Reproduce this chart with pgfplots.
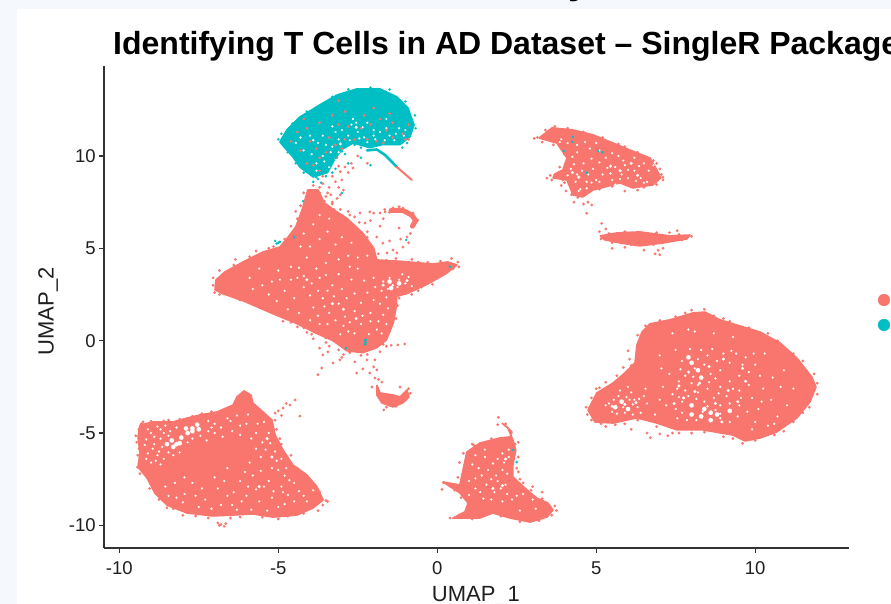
\documentclass[border=0pt]{standalone}
\usepackage{fontspec}
\setmainfont{Liberation Sans}
\usepackage{pgfplots}
\pgfplotsset{compat=1.18}
\definecolor{sal}{HTML}{F8766D}
\definecolor{tealc}{HTML}{00BFC4}
\definecolor{bgb}{HTML}{F5F9FE}
\definecolor{axc}{HTML}{333333}
\pgfplotsset{
  dots/.style n args={2}{only marks, mark=*, color=#1, mark size=#2, mark options={draw=#1, fill=#1, line width=0.1pt, solid}},
}
\begin{document}
\begin{tikzpicture}[x=1pt,y=1pt]
\useasboundingbox (0,0) rectangle (891,604);
\fill[bgb] (0,0) rectangle (891,604);
\fill[white] (17,0) rectangle (891,595);
\node[anchor=base west,inner sep=0pt,font=\bfseries\fontsize{40}{40}\selectfont] at (568,610) {y};
\begin{axis}[
  at={(103.7pt,55.7pt)}, anchor=south west,
  scale only axis, width=745.3pt, height=482.3pt,
  xmin=-10.49, xmax=12.95, ymin=-11.24, ymax=14.87,
  axis lines=left, axis line style={-, axc, line width=1.6pt},
  clip=false,
  xtick={-10,-5,0,5,10}, ytick={-10,-5,0,5,10},
  tick align=outside, major tick length=4.5pt,
  tick style={axc, line width=1.3pt},
  tick label style={font=\fontsize{18.5}{19}\selectfont, text=black!88},
  xticklabel style={yshift=-5pt},
  /pgf/number format/assume math mode=true,
  xlabel={UMAP\_1}, ylabel={UMAP\_2},
  label style={font=\fontsize{22}{22}\selectfont, text=black!88},
  xlabel style={at={(axis description cs:0.4994,0)}, anchor=base, yshift=-53pt},
  ylabel style={at={(axis description cs:0,0.491)}, anchor=base, yshift=50pt},
  title={Identifying T Cells in AD Dataset -- SingleR Package},
  title style={at={(axis description cs:0.0125,1.0105)}, anchor=base west, inner sep=0pt,
    font=\bfseries\fontsize{32}{33}\selectfont},
]
% --- cluster bodies ---
\addplot[fill=sal, draw=sal, line width=1.6pt, line join=round] coordinates {(-9.35,-4.56)(-8.94,-4.40)(-8.31,-4.40)(-7.87,-4.19)(-7.46,-4.02)(-6.93,-3.86)(-6.42,-3.48)(-6.30,-3.05)(-6.08,-2.72)(-5.86,-2.94)(-5.80,-3.37)(-5.48,-3.86)(-5.20,-4.29)(-5.10,-5.10)(-4.85,-5.92)(-4.54,-6.73)(-4.10,-7.27)(-3.78,-7.92)(-3.59,-8.62)(-3.91,-9.06)(-4.41,-9.44)(-5.17,-9.55)(-5.80,-9.38)(-6.42,-9.44)(-7.05,-9.49)(-7.87,-9.33)(-8.50,-8.90)(-8.88,-8.25)(-9.13,-7.43)(-9.41,-6.84)(-9.35,-6.08)(-9.41,-5.21)(-9.35,-4.56)};
\addplot[fill=sal, draw=sal, line width=1.6pt, line join=round] coordinates {(-6.96,3.29)(-6.68,3.72)(-6.11,4.26)(-5.48,4.80)(-4.95,5.07)(-4.69,5.61)(-4.45,6.16)(-4.25,7.08)(-4.07,8.16)(-3.75,8.16)(-3.55,7.46)(-3.25,7.08)(-2.85,6.64)(-2.35,5.84)(-2.0,5.02)(-1.9,4.37)(-1.17,4.30)(-0.14,4.15)(0.33,4.26)(0.62,4.10)(0.30,3.65)(-0.32,3.05)(-0.95,2.55)(-1.28,2.40)(-1.28,1.93)(-1.38,0.97)(-1.6,0.04)(-1.90,-0.38)(-2.34,-0.65)(-2.84,-0.55)(-3.28,0.0)(-3.78,0.38)(-4.41,0.92)(-5.17,1.46)(-6.11,2.16)(-6.74,2.54)(-6.99,2.75)(-6.96,3.29)};
\addplot[fill=sal, draw=sal, line width=1.6pt, line join=round] coordinates {(-1.90,-2.40)(-1.80,-2.83)(-1.39,-2.94)(-1.17,-3.05)(-0.95,-2.67)(-0.89,-3.05)(-1.08,-3.37)(-1.39,-3.59)(-1.74,-3.37)(-1.90,-2.94)(-1.90,-2.40)};
\addplot[fill=sal, draw=sal, line width=1.6pt, line join=round] coordinates {(4.74,-3.75)(5.02,-2.83)(5.53,-2.29)(5.90,-1.75)(6.22,-1.20)(6.28,-0.23)(6.44,0.47)(6.69,0.91)(7.32,1.13)(8.04,1.50)(8.42,1.55)(8.89,1.13)(9.42,0.85)(10.15,0.47)(10.78,-0.12)(11.31,-0.94)(11.78,-1.97)(11.91,-2.51)(11.72,-3.32)(11.31,-4.18)(10.68,-4.94)(10.15,-5.27)(9.68,-5.43)(9.30,-5.11)(8.36,-4.83)(7.54,-4.83)(6.91,-4.46)(6.28,-4.18)(5.53,-4.46)(4.96,-4.40)(4.74,-3.75)};
\addplot[fill=sal, draw=sal, line width=1.6pt, line join=round] coordinates {(3.20,10.97)(3.61,11.52)(4.27,11.41)(4.90,11.14)(5.53,10.70)(6.06,10.32)(6.69,9.89)(6.91,9.24)(7.03,8.81)(6.78,8.43)(6.15,8.27)(5.75,8.54)(5.27,8.32)(4.90,8.16)(4.58,7.78)(4.27,7.89)(4.08,8.70)(3.64,8.81)(3.70,9.03)(3.95,9.24)(4.08,9.89)(3.76,10.70)(3.20,10.97)};
\addplot[fill=sal, draw=sal, line width=1.6pt, line join=round] coordinates {(5.12,5.67)(5.65,5.83)(6.37,5.89)(7.32,5.67)(7.95,5.72)(7.85,5.51)(7.10,5.29)(6.37,5.13)(5.75,5.29)(5.27,5.46)(5.12,5.67)};
\addplot[fill=sal, draw=sal, line width=1.6pt, line join=round] coordinates {(2.03,-4.46)(2.22,-4.73)(2.38,-5.38)(2.47,-5.92)(2.38,-6.73)(2.38,-7.38)(2.82,-8.08)(3.13,-8.52)(3.48,-8.79)(3.64,-9.17)(3.45,-9.55)(2.92,-9.82)(2.29,-9.60)(1.75,-9.33)(1.34,-9.60)(0.49,-9.60)(0.87,-9.27)(0.97,-8.79)(0.71,-8.24)(0.18,-7.65)(0.71,-7.81)(0.81,-7.00)(0.93,-6.03)(1.34,-5.54)(1.97,-5.27)(2.29,-5.21)(2.35,-4.94)(2.19,-4.67)(2.03,-4.46)};
\addplot[sal, line width=5pt, line cap=round, line join=round] coordinates {(-1.45,7.05)(-1.08,7.05)(-0.8,6.8)(-0.68,6.5)(-0.78,6.2)};
\addplot[fill=tealc, draw=tealc, line width=1.6pt, line join=round] coordinates {(-4.95,10.76)(-4.73,11.41)(-4.32,12.11)(-3.59,12.87)(-3.15,13.30)(-2.53,13.63)(-1.80,13.63)(-1.27,13.20)(-0.92,12.60)(-0.73,11.68)(-0.86,11.03)(-1.17,10.62)(-1.71,10.62)(-2.12,10.45)(-2.65,10.7)(-3.00,10.35)(-3.25,9.75)(-3.45,9.10)(-3.9,8.86)(-4.32,9.40)(-4.54,9.95)(-4.79,10.43)(-4.95,10.76)};
\addplot[tealc, line width=2.6pt, line cap=round, line join=round] coordinates {(-2.21,10.3)(-1.90,10.35)(-1.64,10.05)(-1.27,9.40)};
\addplot[sal, line width=2pt, line cap=round] coordinates {(-1.27,9.40)(-0.80,8.70)};
% --- thin zones: large gaps ---
\addplot[dots={white}{2.2pt}] coordinates {(-8.5,-5.6)(-8.3,-5.75)(-8.1,-5.55)(-8.35,-5.4)(-8.05,-5.25)(-7.85,-5.0)(-7.7,-4.75)(-7.5,-4.8)(-7.9,-4.75)(-7.55,-4.55)(-8.2,-5.6)(-7.7,-4.9)(7.9,-0.9)(8.3,-2.0)(8.6,-3.9)(8.3,-4.1)(8.0,-4.0)(8.6,-4.3)(9.2,-3.8)(8.0,-3.5)(5.6,-3.6)(6.0,-3.7)(5.8,-3.3)(-1.5,3.2)(-1.2,3.1)(-1.45,2.85)(8.2,-1.6)(8.0,-1.2)(8.4,-3.7)(8.8,-4.0)};
\addplot[dots={white}{1.5pt}] coordinates {(7.9,-1.7)(8.25,-2.3)(8.55,-1.4)(9.15,-2.7)(9.6,-1.5)(9.45,-3.3)(8.75,-3.4)(7.75,-3.1)(8.1,-2.75)(7.6,-2.45)(9.0,-1.0)(7.45,-3.4)(8.95,-4.4)(9.7,-2.2)(5.9,-3.45)(6.25,-3.35)(5.5,-3.55)(-1.7,3.0)(-0.95,3.25)(-3.3,2.0)(-2.55,1.2)(-4.1,3.3)(-2.95,1.7)(-5.35,-5.3)(-5.2,-6.3)(-5.6,-7.9)(2.05,-7.85)(2.15,-6.4)(1.75,-8.0)(5.75,9.2)(6.3,8.95)(5.45,9.45)(4.25,9.1)(4.45,8.85)(6.1,9.6)(-2.55,11.55)(-3.05,10.65)};
% --- thin zones: small gaps ---
\addplot[dots={white}{1.05pt}] coordinates {(-9.0,-5.0)(-8.7,-4.8)(-8.9,-5.6)(-8.7,-5.3)(-8.4,-4.9)(-8.2,-4.7)(-9.1,-6.1)(-8.8,-6.2)(-9.0,-6.6)(-8.6,-6.4)(-7.0,-4.5)(-6.8,-4.7)(-6.5,-4.35)(-6.2,-4.6)(-7.2,-4.9)(-5.7,-5.0)(-5.5,-5.5)(-5.3,-5.0)(-5.1,-6.0)(-4.9,-6.4)(-5.2,-6.9)(-4.8,-7.3)(-5.55,-6.3)(-5.9,-6.6)(-6.2,-7.6)(-5.3,-7.6)(-4.9,-7.9)(-4.5,-7.7)(-6.4,-8.2)(-6.0,-8.4)(-5.6,-8.7)(-5.2,-8.5)(-6.9,-8.0)(-7.3,-8.6)(-6.8,-8.9)(-5.0,-9.0)(-4.5,-8.7)(-4.2,-8.4)(-7.7,-7.7)(-8.2,-8.5)(-3.9,-8.1)
(-8.9,-5.2)(-8.6,-5.0)(-8.45,-5.15)(-8.8,-4.65)(-8.55,-4.6)(-9.15,-5.35)(-9.1,-4.8)(-8.95,-5.85)(-8.65,-5.75)(-8.75,-6.0)(-8.45,-6.05)(-9.2,-5.65)(-9.15,-6.4)(-8.85,-6.5)(-8.7,-6.7)(-8.3,-6.2)(-8.1,-6.05)(-7.85,-5.5)(-7.7,-5.3)(-7.45,-5.15)(-7.25,-5.4)(-7.0,-5.0)(-6.75,-5.2)(-6.45,-4.9)(-6.2,-5.1)(-6.0,-4.5)(-5.85,-5.3)(-5.65,-4.5)(-5.95,-4.0)(-6.3,-4.05)(-6.6,-4.2)(-7.2,-4.35)(-7.1,-4.7)(-5.45,-4.4)(-5.4,-5.9)(-5.7,-5.85)(-5.25,-5.55)(-5.05,-6.5)(-4.75,-6.9)(-5.0,-7.0)(-4.65,-7.55)(-5.55,-7.05)(-5.8,-7.3)(-6.05,-7.1)(-5.45,-7.9)(-5.7,-8.05)(-5.95,-7.9)(-6.15,-8.7)(-6.45,-8.9)(-6.6,-8.4)(-6.7,-7.6)(-7.0,-7.4)(-7.4,-8.0)(-7.6,-8.4)(-7.95,-8.3)(-8.0,-8.75)(-8.45,-8.4)(-8.55,-7.9)(-8.25,-7.7)(-7.95,-7.4)(-7.5,-9.0)(-7.1,-9.1)(-6.3,-9.15)(-5.85,-9.15)(-5.35,-9.2)(-4.8,-8.85)(-4.7,-8.35)(-4.35,-8.15)(-4.1,-8.7)(-4.85,-8.2)(-5.15,-8.15)(-6.6,-6.9)
(-1.7,3.2)(-1.5,3.4)(-1.4,3.0)(-1.2,3.3)(-1.55,2.8)(-1.25,2.9)(-1.0,3.1)(-0.9,3.45)(-0.8,2.95)(-1.1,3.6)(-1.75,2.7)(-4.4,3.4)(-4.2,2.9)(-4.5,2.3)(-3.9,1.8)(-3.6,2.3)(-3.4,1.5)(-3.1,2.0)(-2.9,1.3)(-2.6,1.6)(-2.4,0.9)(-2.1,1.5)(-2.0,2.2)(-3.3,3.0)(-3.0,2.8)(-2.7,3.3)(-3.8,3.9)(-3.5,4.2)(-4.1,4.5)(-4.6,4.0)(-2.5,3.9)(-1.9,0.6)(-2.6,0.4)(-5.0,3.8)(-5.2,3.2)(-4.8,2.7)(-3.7,0.9)(-4.0,1.1)(-2.2,2.6)(-2.0,3.4)(-1.7,1.4)(-1.6,0.9)(-1.8,2.0)(-2.8,4.6)(-3.2,5.2)
(-5.9,3.4)(-5.6,3.9)(-5.5,3.0)(-5.8,2.8)(-4.95,3.3)(-5.3,2.5)(-5.05,2.15)(-4.7,1.7)(-4.35,1.5)(-4.6,3.3)(-4.35,3.95)(-4.2,3.5)(-3.95,3.1)(-3.7,3.4)(-4.0,2.45)(-3.75,2.7)(-3.45,2.7)(-3.25,2.4)(-3.55,1.85)(-3.75,1.35)(-3.2,1.1)(-3.45,0.9)(-2.95,0.8)(-2.75,1.0)(-2.85,2.3)(-2.6,2.55)(-2.4,2.05)(-2.35,1.35)(-2.1,1.05)(-2.15,0.35)(-2.8,0.5)(-3.05,0.35)(-1.75,0.4)(-1.85,1.05)(-1.55,1.75)(-1.6,2.35)(-1.95,2.9)(-2.3,3.25)(-2.5,4.5)(-2.75,4.0)(-3.1,4.4)(-3.4,4.75)(-3.1,3.6)(-3.5,3.55)(-4.0,5.1)(-3.7,5.5)(-3.45,5.9)(-3.0,5.6)(-2.7,5.3)(-4.3,5.1)(-4.2,5.8)(-3.9,6.3)(-3.7,6.8)(-3.4,6.6)(-2.2,4.6)
(7.9,-0.9)(8.2,-1.0)(8.4,-1.3)(8.1,-1.5)(8.5,-0.8)(8.8,-1.1)(7.8,-1.9)(8.0,-2.3)(8.3,-2.0)(8.6,-1.8)(8.9,-1.6)(9.2,-1.2)(9.4,-0.7)(9.6,-1.3)(9.8,-1.7)(9.5,-1.9)(9.2,-2.2)(8.9,-2.5)(8.5,-2.6)(8.2,-2.8)(7.8,-2.7)(7.6,-2.2)(7.4,-2.9)(7.7,-3.3)(8.0,-3.5)(8.4,-3.3)(8.7,-3.1)(9.1,-3.0)(9.5,-2.7)(9.8,-2.4)(9.9,-3.1)(9.5,-3.5)(9.2,-3.8)(8.9,-3.5)(8.6,-3.9)(8.3,-4.1)(8.0,-4.0)(8.6,-4.3)(8.9,-4.2)(9.2,-4.4)(7.7,-3.9)(10.1,-3.7)(10.0,-4.4)(10.4,-4.6)(10.5,-3.2)(10.8,-2.5)(7.1,-2.5)(7.3,-1.8)(7.5,-3.7)(7.2,-3.5)(8.1,0.5)(7.9,0.6)
(7.5,-0.5)(7.7,-1.1)(7.65,-1.55)(7.95,-0.45)(8.3,-0.5)(8.65,-0.45)(9.0,-0.7)(9.25,-0.55)(9.7,-0.9)(10.0,-1.3)(10.15,-1.9)(9.95,-0.7)(8.05,-1.95)(8.75,-2.05)(8.55,-2.25)(8.2,-2.4)(7.9,-3.0)(7.55,-2.6)(7.6,-3.05)(8.15,-3.15)(8.5,-3.55)(8.85,-2.85)(9.3,-2.6)(9.55,-3.1)(9.2,-3.4)(8.75,-3.75)(8.9,-3.95)(8.35,-3.85)(8.15,-4.3)(7.85,-4.3)(7.55,-4.2)(9.45,-4.1)(9.75,-3.85)(10.2,-3.3)(10.25,-2.6)(10.55,-2.0)(10.9,-1.6)(11.2,-2.6)(11.0,-3.5)(10.7,-4.1)(7.0,-3.2)(6.85,-4.0)(7.05,-1.5)(7.0,-0.8)(7.4,0.4)(8.7,0.4)(9.3,0.2)(10.3,-0.7)(9.9,-4.8)(10.6,-4.5)
(5.4,-3.4)(5.6,-3.6)(5.8,-3.3)(6.0,-3.7)(6.2,-3.2)(5.9,-3.9)(6.3,-3.6)(6.5,-3.0)(6.6,-3.4)(6.1,-2.8)(5.7,-3.0)(6.4,-3.9)(5.3,-3.5)(6.0,-2.5)(5.75,-2.7)(5.55,-3.2)(5.85,-3.6)(6.15,-3.45)(5.5,-3.85)(6.05,-3.2)(6.35,-3.15)(6.55,-2.6)(5.95,-3.05)(6.15,-4.0)(5.65,-3.95)
(4.2,9.3)(4.4,9.0)(4.1,8.95)(4.35,8.6)(5.6,9.4)(5.8,9.0)(6.0,8.8)(5.5,8.7)(5.2,9.0)(5.9,9.5)(6.2,9.2)(6.4,8.8)(6.5,9.6)(6.2,9.9)(5.3,9.9)(5.7,10.0)(4.6,9.6)(4.9,9.3)(4.4,10.2)(4.1,10.7)(3.9,10.9)(4.8,10.4)(5.1,10.3)(4.7,8.6)(5.0,8.7)(4.5,8.2)(6.6,8.6)
(4.3,9.55)(4.55,9.2)(4.75,9.0)(4.85,8.55)(5.1,8.6)(5.35,9.35)(5.45,9.05)(5.75,8.75)(6.0,9.25)(6.35,9.45)(6.65,9.2)(6.5,8.55)(6.25,8.65)(5.85,9.75)(5.5,10.15)(5.1,9.65)(4.85,9.85)(4.4,10.6)(4.65,10.75)(5.0,10.7)(4.25,9.95)(3.85,10.75)(4.45,8.1)(4.7,8.25)(6.8,9.5)(5.6,8.45)
(1.9,-7.6)(2.0,-8.0)(2.15,-7.8)(2.2,-8.3)(1.8,-8.2)(2.05,-6.1)(2.1,-6.6)(2.25,-6.3)(1.6,-7.0)(1.4,-7.3)(1.2,-8.0)(1.0,-7.6)(1.5,-6.3)(2.5,-8.4)(1.1,-6.7)(1.7,-8.6)
(1.7,-7.5)(1.55,-7.8)(1.85,-7.3)(2.05,-7.0)(2.2,-7.2)(2.25,-5.9)(1.9,-6.4)(1.75,-6.65)(1.3,-6.9)(1.2,-7.45)(1.35,-8.2)(1.45,-8.55)(1.0,-8.35)(2.35,-8.6)(2.05,-8.7)(2.7,-8.3)(3.0,-8.6)(3.1,-9.1)(2.6,-9.2)(1.5,-5.9)(1.2,-6.2)
(-2.7,11.7)(-2.5,11.3)(-2.3,11.0)(-2.8,11.1)(-3.1,10.9)(-3.3,10.5)(-3.0,11.4)(-3.5,10.6)(-2.0,11.4)(-1.6,11.5)(-1.3,11.2)(-3.6,10.0)(-3.8,9.6)(-3.95,10.1)(-4.2,10.3)(-2.2,11.8)(-3.3,11.6)(-1.0,11.4)(-3.6,11.1)
(-2.55,11.8)(-2.35,11.55)(-2.65,12.0)(-3.2,11.3)(-3.35,10.2)(-3.1,10.2)(-2.75,10.85)(-2.0,11.1)(-1.8,11.3)(-1.5,11.1)(-1.2,11.5)(-3.75,10.7)(-3.9,10.85)(-4.45,10.7)(-4.3,11.0)(-4.0,11.1)(-3.8,9.2)(-3.55,9.7)(-1.05,11.1)(-1.6,12.0)
(-2.45,10.95)(-2.2,10.75)(-1.95,10.9)(-1.65,10.85)(-1.35,10.85)(-3.2,9.85)(-3.4,9.4)};
% --- scattered teal cells under the pink ---
\addplot[dots={tealc}{1.25pt}] coordinates {(-3.2,10.4)(-3.0,10.25)(-2.85,10.65)(-2.6,10.6)(-2.4,10.85)(-2.15,10.55)(-1.85,10.6)(-1.55,10.7)(-1.1,10.45)(-0.95,10.7)(-3.3,9.65)(-3.45,9.2)(-3.5,8.9)(-3.9,8.6)(-3.65,8.55)(-3.3,9.1)(-2.8,9.6)};
% --- scattered pink cells ---
\addplot[dots={sal}{1.35pt}] coordinates {(-4.6,10.8)(-4.4,11.3)(-4.1,11.5)(-4.3,10.3)(-4.0,10.8)(-3.8,10.4)(-3.5,10.2)(-3.7,9.9)(-3.2,10.6)(-3.0,10.4)(-3.9,9.5)(-3.7,9.2)(-3.6,8.9)(-4.1,9.6)(-2.9,12.4)(-3.3,12.2)(-3.7,11.8)(-2.3,12.2)(-2.1,11.7)(-1.8,12.0)(-1.6,11.4)(-1.4,11.0)(-1.1,11.2)(-0.9,11.7)(-1.4,11.8)(-1.0,10.9)(-2.4,11.5)(-2.6,10.9)(-1.9,10.8)(-2.2,10.9)(-3.1,11.7)(-2.8,11.6)(-3.4,11.0)(-2.0,12.6)(-1.5,12.3)(-3.1,13.0)(-4.2,12.0)(-0.9,10.9)(-1.7,10.7)(-2.9,10.9)
(-4.2,8.0)(-3.9,8.4)(-3.7,8.0)(-3.5,7.8)(-3.3,7.5)(-3.1,8.3)(-3.0,8.7)(-3.2,8.6)(-3.4,8.3)(-2.7,9.6)(-2.9,9.4)(-3.05,9.15)(-3.15,9.9)(-3.5,7.2)(-3.25,7.1)(-3.6,8.5)(-2.5,10.0)(-2.2,9.6)
(-4.05,7.7)(-3.95,7.4)(-3.8,7.7)(-3.6,7.5)(-3.85,7.95)(-3.45,8.0)(-3.55,7.55)(-3.7,8.3)(-3.35,7.9)(-3.15,7.7)(-3.05,7.9)(-2.95,8.15)(-3.2,6.9)(-3.05,7.1)(-2.8,7.0)(-4.3,7.3)(-4.25,6.7)(-4.45,7.0)(-3.1,9.45)(-3.3,8.9)(-2.8,9.1)(-2.65,9.35)
(-2.75,6.80)(-2.43,6.91)(-2.12,6.97)(-2.27,6.37)(-1.90,5.61)(-1.71,5.28)(-1.58,4.75)(-1.39,4.91)(-1.27,4.75)(-1.08,5.07)(-0.95,5.61)(-0.76,6.16)(-0.61,6.53)(-0.76,6.91)(-1.08,7.18)(-1.39,7.18)(-1.64,6.97)(-1.80,6.91)(-2.0,6.9)(-2.6,6.7)(-2.1,6.5)(-2.45,6.4)(-1.8,6.2)(-2.2,5.9)(-1.5,5.4)(-1.15,5.5)(-1.2,6.1)(-0.9,5.3)(-1.7,6.6)(-1.5,6.95)(-1.65,7.1)(-1.25,7.0)(-0.9,6.9)(-1.2,7.25)(-0.85,5.8)
(-3.60,-0.77)(-3.28,-1.21)(-3.75,-1.84)(-3.63,-1.48)(-3.44,-0.61)(-3.06,-1.04)(-2.59,-1.15)(-2.21,-1.04)(-1.96,-1.04)(-2.0,-1.42)(-2.34,-1.53)(-2.53,-1.75)(-2.12,-1.75)(-1.96,-2.02)(-2.05,-2.51)(-1.90,-1.58)(-1.74,-2.24)(-1.17,-2.51)(-1.68,-3.75)(-1.24,-0.23)(-1.02,-0.18)(-3.4,-0.3)(-3.1,-0.5)(-2.95,-0.75)(-1.6,-0.3)(-1.45,-0.25)(-3.0,-0.9)(-3.5,-0.1)(-3.7,-0.4)(-3.9,0.1)(-4.1,0.45)(-1.8,-0.6)(-2.4,-0.8)
(-5.1,-3.92)(-4.85,-3.65)(-4.63,-3.48)(-4.47,-3.21)(-4.32,-4.08)(-4.9,-4.05)(-4.75,-3.4)(-5.0,-3.8)(-5.1,-4.3)(-6.9,-9.87)(-6.8,-9.95)(-6.7,-10.05)(-6.65,-9.9)(-6.85,-10.0)(-9.42,-6.2)(-9.43,-6.85)(-9.3,-4.5)(-9.0,-4.35)(-8.6,-4.35)(-7.7,-4.1)(-6.6,-3.7)(-5.4,-4.2)(-4.95,-5.3)(-4.7,-6.5)(-4.3,-7.2)(-3.85,-7.8)(-3.5,-8.65)(-4.2,-9.35)(-5.5,-9.55)(-6.2,-9.55)(-7.6,-9.5)(-8.3,-9.1)(-9.05,-8.0)(-9.45,-5.5)(-3.45,-8.7)
(-9.25,-4.4)(-9.38,-4.8)(-9.48,-5.15)(-9.38,-5.85)(-9.35,-7.2)(-9.2,-7.1)(-9.0,-7.7)(-8.75,-8.6)(-8.5,-9.05)(-8.0,-9.45)(-7.2,-9.6)(-6.5,-9.6)(-5.0,-9.65)(-4.7,-9.5)(-3.75,-9.2)(-3.6,-8.9)(-3.7,-8.2)(-4.0,-7.55)(-4.4,-6.9)(-4.6,-6.2)(-4.9,-5.6)(-5.05,-4.8)(-5.35,-4.5)(-5.65,-4.0)(-5.75,-3.6)(-6.7,-3.75)(-7.1,-3.85)(-7.4,-3.95)(-8.1,-4.25)(-8.45,-4.3)
(-7.05,3.0)(-7.0,2.6)(-6.85,3.8)(-6.4,4.1)(-5.9,4.55)(-5.3,5.0)(-5.5,2.0)(-5.0,1.45)(-4.6,1.0)(-4.2,0.7)(-4.5,5.7)(-4.4,6.6)(-4.6,6.2)(-3.3,7.4)(-2.8,6.3)(-2.2,5.6)(-1.85,4.7)(-1.6,4.35)(-0.8,4.4)(-0.3,4.25)(0.1,4.3)(0.45,4.45)(0.65,4.25)(0.68,4.0)(-0.5,2.9)(-0.8,2.5)
(-7.05,3.4)(-6.85,2.5)(-6.5,2.55)(-6.2,2.2)(-5.8,2.15)(-5.35,1.65)(-4.85,1.05)(-4.4,0.75)(-3.95,0.35)(-3.5,0.15)(-2.75,-0.65)(-2.2,-0.75)(-1.7,-0.2)(-1.5,0.5)(-1.3,1.2)(-1.25,1.9)(-1.2,2.3)(-0.6,2.7)(-0.15,3.05)(0.2,3.6)(0.5,3.9)(-6.35,4.4)(-5.7,4.85)(-5.15,5.1)(-4.8,5.5)(-2.3,5.3)(-2.0,4.4)(-1.3,4.45)(-0.6,4.25)
(4.68,-3.6)(5.0,-2.6)(5.3,-2.25)(5.65,-1.9)(5.85,-1.45)(6.05,-1.0)(6.0,-0.55)(6.3,0.3)(8.4,1.7)(8.0,1.65)(7.5,1.3)(9.0,1.2)(10.4,0.4)(11.5,-1.1)(11.95,-2.3)(11.5,-3.9)(10.9,-4.9)(9.6,-5.55)(9.0,-5.2)(8.0,-5.0)(7.4,-5.0)(6.9,-4.65)(6.6,-5.0)(6.7,-5.25)(7.0,-5.05)(7.25,-5.15)(5.3,-4.65)(5.9,-4.5)(6.1,-4.8)
(4.72,-4.0)(4.85,-4.3)(5.15,-4.5)(5.6,-4.55)(6.3,-4.3)(7.6,-5.0)(8.4,-4.95)(9.3,-5.3)(10.0,-5.4)(10.6,-5.1)(11.2,-4.4)(11.7,-3.6)(11.95,-2.9)(11.85,-1.8)(11.2,-0.7)(10.7,0.0)(9.8,0.7)(9.2,1.05)(8.7,1.35)(7.8,1.5)(7.0,1.1)(6.55,0.8)(6.3,-0.7)(6.1,-1.35)(5.7,-2.1)(5.1,-2.55)(4.85,-3.1)
(3.95,8.7)(4.22,7.9)(4.42,7.75)(4.74,7.5)(4.86,7.35)(4.7,6.9)(4.6,7.4)(4.3,7.5)(4.05,8.1)(3.9,8.4)(3.45,8.8)(3.15,11.0)(3.3,10.75)(4.6,11.3)(5.9,10.5)(6.9,9.6)(7.05,9.0)(7.1,8.7)(5.9,8.1)(6.3,8.15)
(3.05,10.95)(3.4,11.4)(3.7,11.6)(4.1,11.5)(5.2,11.0)(5.7,10.65)(6.3,10.2)(6.8,9.75)(7.0,9.3)(7.1,8.85)(6.9,8.45)(6.5,8.3)(5.5,8.35)(5.1,8.2)(4.0,8.55)(3.6,8.7)(3.55,8.95)(3.85,9.4)(4.0,10.1)(3.65,10.6)
(5.17,6.35)(5.3,6.05)(5.1,5.9)(7.55,5.95)(7.3,5.85)(6.95,4.9)(6.85,4.7)(7.0,4.65)(5.5,5.0)(5.9,5.05)(6.5,4.9)(7.1,5.0)(8.0,5.65)
(5.15,5.5)(5.4,5.8)(5.9,5.9)(6.9,5.85)(7.6,5.75)(7.7,5.45)(6.8,5.2)(6.1,5.2)(5.5,5.3)
(1.92,-4.15)(1.9,-4.55)(0.15,-8.05)(0.2,-7.7)(0.4,-7.85)(3.0,-7.9)(3.3,-8.2)(3.75,-9.2)(0.4,-9.6)(1.1,-5.6)(2.55,-5.5)(2.6,-7.5)(2.7,-7.7)(2.5,-6.9)
(2.15,-4.5)(2.45,-5.6)(2.55,-6.3)(2.55,-7.1)(2.95,-8.1)(3.3,-8.55)(3.7,-8.95)(3.6,-9.45)(3.2,-9.75)(2.6,-9.8)(2.0,-9.5)(1.1,-9.65)(0.7,-9.55)(0.75,-8.5)(0.55,-8.1)(0.65,-7.4)(0.7,-6.6)(0.82,-6.1)(1.15,-5.65)(1.7,-5.3)
(-1.85,-2.1)(-0.9,-2.6)(-0.85,-2.85)(-1.6,-3.6)(-1.3,-3.55)};
% --- scattered teal cells ---
\addplot[dots={tealc}{1.25pt}] coordinates {(-5.0,10.9)(-4.9,11.2)(-4.55,11.75)(-4.1,12.4)(-3.3,13.2)(-2.8,13.6)(-2.1,13.7)(-1.5,13.6)(-1.0,12.95)(-0.7,12.2)(-0.68,11.5)(-4.7,10.2)(-4.45,9.6)(-4.2,9.1)(-3.8,8.85)(-3.4,9.5)(-3.2,9.9)(-1.3,10.65)(-2.4,10.7)(-2.4,10.45)(-2.2,10.5)(-1.95,10.7)
(-3.2,9.3)(-2.9,10.1)(-2.4,9.9)(-2.1,9.5)(-3.0,8.0)(-3.75,8.75)(-5.1,5.4)(-5.0,5.3)(-5.05,5.25)(-4.95,5.35)(-4.5,5.6)(-4.22,7.55)(-2.27,0.0)(-2.27,-0.2)(-2.25,-0.1)(-2.25,0.05)(-2.87,-0.4)(-0.98,5.45)(0.4,4.0)(4.26,11.03)(4.24,10.76)(3.98,10.27)(5.06,10.27)(5.2,10.2)(4.7,9.1)(2.5,-6.57)(2.38,-5.92)};
% --- legend keys (their labels are cut off at the edge) ---
\addplot[dots={sal}{6pt}] coordinates {(14.05,2.2)};
\addplot[dots={tealc}{6pt}] coordinates {(14.05,0.85)};
\end{axis}
\end{tikzpicture}
\end{document}
